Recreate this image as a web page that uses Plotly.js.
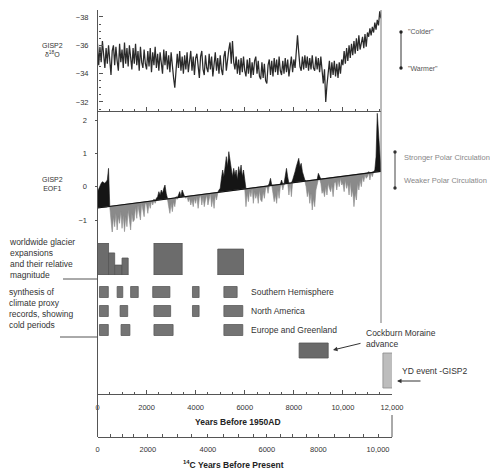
<!DOCTYPE html>
<html><head><meta charset="utf-8">
<script src="https://cdn.plot.ly/plotly-3.0.1.min.js"></script>
<style>html,body{margin:0;padding:0;background:#fff}#chart{width:490px;height:470px}</style>
</head><body><div id="chart"></div>
<script>
// ---------- DATA ----------
// GISP2 d18O (permil), sampled every 50 years from 0 to 11550 years BP
const d18oStep = 50;
const d18oValues = [
-36.1,-34.6,-35.9,-34.8,-36.3,-35.0,-34.4,-35.8,-34.7,-36.0,
-34.5,-33.9,-35.6,-36.0,-34.6,-35.9,-34.9,-34.2,-36.1,-34.8,
-35.7,-34.4,-36.2,-34.7,-35.8,-34.5,-36.0,-34.9,-34.3,-35.8,
-34.7,-36.1,-34.6,-35.6,-34.2,-35.9,-34.8,-34.4,-35.7,-34.7,
-34.3,-35.6,-34.5,-35.8,-34.1,-35.5,-34.6,-35.9,-34.4,-35.4,
-34.2,-35.5,-34.5,-34.0,-35.7,-34.6,-35.6,-34.3,-35.3,-34.1,
-35.5,-34.3,-33.7,-33.0,-34.2,-35.4,-34.4,-35.6,-34.2,-35.2,
-34.0,-35.3,-34.3,-35.5,-34.1,-35.1,-35.6,-34.2,-35.2,-33.9,
-35.1,-35.4,-34.2,-33.7,-35.2,-35.6,-34.3,-33.9,-35.3,-34.4,
-34.1,-35.4,-34.3,-35.2,-33.8,-35.0,-35.5,-34.2,-35.1,-34.0,
-35.3,-34.3,-33.9,-35.2,-35.6,-34.2,-35.1,-35.7,-36.2,-34.7,
-36.3,-34.8,-34.3,-35.2,-34.0,-35.0,-33.9,-35.1,-34.1,-35.2,
-34.2,-33.8,-35.0,-34.0,-35.1,-33.7,-34.8,-33.9,-34.9,-35.2,
-34.0,-34.9,-33.8,-33.6,-34.8,-33.7,-34.7,-33.5,-33.3,-34.6,
-35.0,-33.9,-34.9,-33.8,-35.1,-34.1,-35.0,-33.9,-35.2,-34.2,
-33.9,-34.9,-34.0,-35.1,-34.1,-35.0,-33.8,-34.8,-35.2,-34.1,
-35.0,-34.4,-35.9,-36.7,-35.5,-34.5,-34.2,-35.2,-34.3,-35.3,
-34.4,-35.2,-34.2,-35.1,-34.3,-35.3,-34.4,-34.2,-35.2,-34.3,
-35.1,-34.1,-35.2,-33.9,-33.3,-34.3,-32.0,-33.2,-34.4,-34.9,
-33.7,-34.8,-33.9,-34.9,-33.8,-34.7,-33.7,-34.8,-34.0,-35.0,
-34.6,-35.6,-34.7,-35.8,-34.9,-36.0,-35.1,-36.1,-35.3,-36.3,
-35.4,-36.5,-35.6,-36.7,-35.7,-36.1,-36.6,-35.8,-36.8,-35.9,
-36.9,-36.6,-37.2,-36.7,-37.3,-36.9,-37.6,-37.1,-37.8,-37.4,
-38.4,-37.9
];
// GISP2 EOF1 (polar circulation index), sampled every 50 years
const eofStep = 50;
const eofValues = [
-0.15,-0.05,0.05,0.1,0.15,0.12,0.1,0.15,0.2,0.55,
-0.6,-1.0,-1.4,-0.9,-1.2,-0.8,-1.3,-0.9,-1.1,-0.75,
-1.25,-0.85,-1.35,-0.9,-1.2,-0.7,-1.0,-1.3,-0.8,-1.05,
-1.0,-0.6,-0.95,-0.55,-0.8,-1.0,-0.5,-0.7,-0.9,-0.48,
-0.55,-0.8,-0.5,-0.65,-0.42,-0.55,-0.38,-0.5,-0.35,-0.3,
-0.15,-0.25,-0.1,-0.2,-0.05,0.05,-0.2,-0.35,-0.6,-0.8,
-0.5,-0.75,-0.45,-0.6,-0.3,-0.38,-0.25,-0.15,-0.3,-0.1,
-0.2,-0.3,-0.35,-0.3,-0.45,-0.35,-0.55,-0.4,-0.6,-0.35,
-0.5,-0.3,-0.65,-0.35,-0.25,-0.55,-0.3,-0.6,-0.4,-0.25,
-0.55,-0.3,-0.2,-0.6,-0.35,-0.65,-0.25,-0.4,-0.2,-0.1,
-0.05,0.25,0.5,0.3,0.7,0.9,0.6,1.05,0.8,0.45,
0.3,0.55,0.35,0.5,0.2,0.6,0.4,0.65,0.3,0.5,
0.1,-0.6,-0.2,-0.45,-0.1,-0.3,-0.05,-0.5,-0.15,-0.35,
-0.2,-0.5,-0.1,-0.4,-0.45,-0.15,-0.35,-0.05,0.0,-0.2,
0.1,0.25,0.05,-0.2,-0.45,-0.25,-0.5,-0.1,-0.35,0.0,
0.2,-0.1,0.05,0.35,0.55,0.3,-0.25,0.1,-0.3,0.2,
0.3,0.45,0.6,0.7,0.85,0.6,0.7,0.45,0.35,0.2,
0.0,-0.3,-0.1,-0.5,-0.2,-0.7,-0.35,-0.6,-0.1,0.05,
0.4,0.3,0.1,-0.2,-0.1,-0.3,0.0,-0.25,0.1,-0.05,
-0.15,0.05,-0.3,0.1,0.15,-0.1,0.2,0.0,0.25,0.05,
0.1,-0.15,0.2,-0.05,0.1,-0.25,0.15,-0.3,-0.1,-0.6,
-0.2,-0.4,0.1,-0.1,0.2,0.0,0.3,0.15,0.35,0.25,
0.3,0.45,0.2,0.4,0.3,0.45,0.5,0.9,2.2,1.6,
0.8,0.5
];
// linear trend of EOF1
const eofTrendYears = [0, 11550];
const eofTrendValues = [-0.64, 0.46];

// worldwide glacier expansions: start, end (years before 1950) and relative magnitude
const glacierStart = [0, 450, 700, 1000, 2300, 4900];
const glacierEnd   = [450, 700, 1000, 1250, 3450, 5950];
const glacierMag   = [1.0, 0.69, 0.31, 0.53, 1.0, 0.81];

// cold periods from climate proxy records [start, end]
const southernHemisphere = [[80,440],[800,1030],[1350,1660],[2250,2950],[3870,4140],[5150,5690]];
const northAmerica       = [[80,440],[920,1230],[2300,2980],[3870,4140],[5150,5920]];
const europeGreenland    = [[80,440],[960,1320],[2300,3080],[5150,5920]];
const cockburnAdvance    = [8215, 9400];
const ydEvent            = [11630, 12120];

// axis ticks
const calTickVals   = [0, 2000, 4000, 6000, 8000, 10000, 12000];
const calTickText   = ['0', '2000', '4000', '6000', '8000', '10,000', '12,000'];
const c14TickLabels = ['0', '2000', '4000', '6000', '8000', '10,000'];
const c14TickCal    = [0, 2050, 4500, 6900, 9000, 11430];
const c14MinorCal   = [520, 1000, 1450, 2650, 3250, 3850, 5150, 5750, 6350, 7450, 7950, 8500, 9650, 10250, 10850];

// ---------- HELPERS ----------
const PX = x => x / 490;
const PY = y => 1 - y / 470;
const FONT = 'Liberation Sans, Arial, sans-serif';

const d18oYears = d18oValues.map((_, i) => i * d18oStep);
const eofYears = eofValues.map((_, i) => i * eofStep);
const trendAt = yr => eofTrendValues[0] + (yr - eofTrendYears[0]) *
  (eofTrendValues[1] - eofTrendValues[0]) / (eofTrendYears[1] - eofTrendYears[0]);
const eofBase = eofYears.map(trendAt);
const eofUpper = eofValues.map((v, i) => Math.max(v, eofBase[i]));
const eofLower = eofValues.map((v, i) => Math.min(v, eofBase[i]));

const traces = [];
// top panel
traces.push({x: d18oYears, y: d18oValues, xaxis: 'x2', yaxis: 'y', type: 'scatter', mode: 'lines',
  line: {color: '#2a2a2a', width: 1.25}, hoverinfo: 'skip'});
// EOF fills
traces.push({x: eofYears, y: eofBase, xaxis: 'x2', yaxis: 'y2', mode: 'lines', line: {width: 0}, hoverinfo: 'skip'});
traces.push({x: eofYears, y: eofUpper, xaxis: 'x2', yaxis: 'y2', mode: 'lines', fill: 'tonexty',
  fillcolor: '#151515', line: {color: '#151515', width: 0.6}, hoverinfo: 'skip'});
traces.push({x: eofYears, y: eofBase, xaxis: 'x2', yaxis: 'y2', mode: 'lines', line: {width: 0}, hoverinfo: 'skip'});
traces.push({x: eofYears, y: eofLower, xaxis: 'x2', yaxis: 'y2', mode: 'lines', fill: 'tonexty',
  fillcolor: '#8a8a8a', line: {color: '#8a8a8a', width: 0.6}, hoverinfo: 'skip'});
traces.push({x: eofTrendYears, y: eofTrendValues, xaxis: 'x2', yaxis: 'y2', mode: 'lines',
  line: {color: '#111', width: 1.2}, hoverinfo: 'skip'});

// glacier expansions (vertical bars)
traces.push({type: 'bar', xaxis: 'x', yaxis: 'y3',
  x: glacierStart.map((s, i) => (s + glacierEnd[i]) / 2),
  width: glacierStart.map((s, i) => glacierEnd[i] - s),
  y: glacierMag, base: glacierMag.map(() => 0),
  marker: {color: '#6c6c6c', line: {color: '#555', width: 0.8}}, hoverinfo: 'skip'});

// proxy records (horizontal bars)
function hbar(events, rowPos, thick, fill, edge) {
  return {type: 'bar', orientation: 'h', xaxis: 'x', yaxis: 'y4', cliponaxis: false,
    base: events.map(e => e[0]), x: events.map(e => e[1] - e[0]),
    y: events.map(() => rowPos), width: events.map(() => thick),
    marker: {color: fill, line: {color: edge, width: 0.8}}, hoverinfo: 'skip'};
}
traces.push(hbar(southernHemisphere, 60, 11, '#747474', '#5a5a5a'));
traces.push(hbar(northAmerica, 79, 11, '#747474', '#5a5a5a'));
traces.push(hbar(europeGreenland, 98, 11, '#747474', '#5a5a5a'));
traces.push(hbar([cockburnAdvance], 118.5, 15, '#6a6a6a', '#555'));
traces.push(hbar([ydEvent], 138.5, 35, '#bdbdbd', '#8a8a8a'));
// invisible trace so that the 14C axis is drawn
traces.push({type: 'scatter', mode: 'markers', xaxis: 'x3', yaxis: 'y5', x: [0], y: [0],
  marker: {opacity: 0, size: 1}, hoverinfo: 'skip'});

const axColor = '#555';
const tickFont = {family: FONT, size: 7.5, color: '#333'};

const layout = {
  width: 490, height: 470,
  margin: {l: 0, r: 0, t: 0, b: 0},
  paper_bgcolor: '#fff', plot_bgcolor: 'rgba(0,0,0,0)',
  showlegend: false, barmode: 'overlay',
  font: {family: FONT, size: 8, color: '#333'},
  xaxis: {domain: [PX(97.5), PX(392)], range: [0, 12000], anchor: 'free', position: PY(394),
    showline: true, linecolor: axColor, linewidth: 1, showgrid: false, zeroline: false,
    tickmode: 'array', tickvals: calTickVals, ticktext: calTickText,
    ticks: 'inside', ticklen: 4, tickcolor: axColor, tickfont: tickFont, ticklabelstandoff: 6,
    minor: {dtick: 500, ticks: 'inside', ticklen: 2.5, tickcolor: axColor}},
  xaxis2: {domain: [PX(97.5), PX(381)], range: [0, 11552], anchor: 'y',
    showline: true, linecolor: axColor, linewidth: 1, showgrid: false, zeroline: false,
    showticklabels: false, dtick: 2000, ticks: 'inside', ticklen: 4, tickcolor: axColor,
    minor: {dtick: 500, ticks: 'inside', ticklen: 2.5, tickcolor: axColor}},
  xaxis3: {domain: [PX(97.5), PX(392)], range: [0, 12000], anchor: 'free', position: PY(437),
    showline: true, linecolor: axColor, linewidth: 1, showgrid: false, zeroline: false,
    tickmode: 'array', tickvals: c14TickCal.concat(c14MinorCal),
    ticktext: c14TickLabels.concat(c14MinorCal.map(() => '')),
    ticks: 'inside', ticklen: 3, tickcolor: axColor, tickfont: tickFont, ticklabelstandoff: 5},
  yaxis: {domain: [PY(111), PY(10)], range: [-31.36, -38.49], anchor: 'free', position: PX(97.5),
    showline: false, showgrid: false, zeroline: false,
    tickmode: 'array', tickvals: [-38, -36, -34, -32], ticks: 'inside', ticklen: 4, tickcolor: axColor,
    tickfont: tickFont, ticklabelstandoff: 9,
    minor: {dtick: 0.5, ticks: 'inside', ticklen: 2.5, tickcolor: axColor}},
  yaxis2: {domain: [PY(232), PY(111)], range: [-1.36, 2.27], anchor: 'free', position: PX(97.5),
    showline: false, showgrid: false, zeroline: false,
    tickmode: 'array', tickvals: [-1, 0, 1, 2], ticks: 'outside', ticklen: 3, tickcolor: axColor,
    tickfont: tickFont, ticklabelstandoff: 6},
  yaxis3: {domain: [PY(275), PY(243)], range: [0, 1], anchor: 'free', position: PX(97.5), visible: false},
  yaxis4: {domain: [PY(394), PY(232)], range: [162, 0], anchor: 'free', position: PX(97.5), visible: false},
  yaxis5: {domain: [PY(437), PY(396)], range: [1, 2], anchor: 'free', position: PX(97.5), visible: false},
  shapes: [
    {type: 'line', xref: 'paper', yref: 'paper', x0: PX(97.5), x1: PX(97.5), y0: PY(10), y1: PY(437), line: {color: axColor, width: 1}},
    {type: 'line', xref: 'paper', yref: 'paper', x0: PX(381), x1: PX(381), y0: PY(10), y1: PY(323), line: {color: '#777', width: 1}},
    {type: 'line', xref: 'paper', yref: 'paper', x0: PX(392), x1: PX(392), y0: PY(415), y1: PY(437), line: {color: axColor, width: 1}},
    {type: 'line', xref: 'paper', yref: 'paper', x0: PX(63), x1: PX(97.5), y0: PY(279), y1: PY(279), line: {color: '#555', width: 1}},
    {type: 'line', xref: 'paper', yref: 'paper', x0: PX(60), x1: PX(97.5), y0: PY(337), y1: PY(337), line: {color: '#555', width: 1}},
    {type: 'line', xref: 'paper', yref: 'paper', x0: PX(401), x1: PX(401), y0: PY(32), y1: PY(68), line: {color: '#333', width: 1}},
    {type: 'circle', xref: 'paper', yref: 'paper', x0: PX(399.3), x1: PX(402.7), y0: PY(30.3), y1: PY(33.7), fillcolor: '#222', line: {width: 0}},
    {type: 'circle', xref: 'paper', yref: 'paper', x0: PX(399.3), x1: PX(402.7), y0: PY(66.3), y1: PY(69.7), fillcolor: '#222', line: {width: 0}},
    {type: 'line', xref: 'paper', yref: 'paper', x0: PX(395), x1: PX(395), y0: PY(152), y1: PY(188), line: {color: '#444', width: 1}},
    {type: 'circle', xref: 'paper', yref: 'paper', x0: PX(393.3), x1: PX(396.7), y0: PY(150.3), y1: PY(153.7), fillcolor: '#333', line: {width: 0}},
    {type: 'circle', xref: 'paper', yref: 'paper', x0: PX(393.3), x1: PX(396.7), y0: PY(186.3), y1: PY(189.7), fillcolor: '#333', line: {width: 0}}
  ],
  annotations: []
};

function label(text, x, y, opts) {
  return Object.assign({text: text, xref: 'paper', yref: 'paper', x: PX(x), y: PY(y),
    xanchor: 'left', yanchor: 'middle', align: 'left', showarrow: false,
    font: {family: FONT, size: 8.5, color: '#333'}}, opts || {});
}
const A = layout.annotations;
A.push(label('GISP2<br>δ<sup>18</sup>O', 52, 50, {xanchor: 'center', align: 'center', font: {family: FONT, size: 7, color: '#333'}}));
A.push(label('GISP2<br>EOF1', 52, 184, {xanchor: 'center', align: 'center', font: {family: FONT, size: 7, color: '#333'}}));
A.push(label('"Colder"', 406, 32, {font: {family: FONT, size: 7, color: '#555'}}));
A.push(label('"Warmer"', 406, 68, {font: {family: FONT, size: 7, color: '#555'}}));
A.push(label('Stronger Polar Circulation', 402, 157, {font: {family: FONT, size: 7.5, color: '#888'}}));
A.push(label('Weaker Polar Circulation', 402, 181, {font: {family: FONT, size: 7.5, color: '#888'}}));
A.push(label('worldwide glacier<br>expansions<br>and their relative<br>magnitude', 7, 258, {font: {family: FONT, size: 8.5, color: '#333'}}));
A.push(label('synthesis of<br>climate proxy<br>records, showing<br>cold periods', 7, 308, {font: {family: FONT, size: 8.5, color: '#333'}}));
A.push(label('Southern Hemisphere', 249, 292));
A.push(label('North America', 249, 311));
A.push(label('Europe and Greenland', 249, 330));
A.push(label('Cockburn Moraine<br>advance', 364, 338.5));
A.push(label('YD event -GISP2', 400, 371));
A.push({text: '', xref: 'paper', yref: 'paper', x: PX(333), y: PY(350), ax: 29, ay: -7,
  showarrow: true, arrowhead: 2, arrowsize: 0.9, arrowwidth: 1, arrowcolor: '#333'});
A.push({text: '', xref: 'paper', yref: 'paper', x: PX(397), y: PY(381), ax: 25, ay: 0,
  showarrow: true, arrowhead: 2, arrowsize: 0.9, arrowwidth: 1, arrowcolor: '#333'});
A.push(label('<b>Years Before 1950AD</b>', 238, 422, {xanchor: 'center', align: 'center', font: {family: FONT, size: 8.5, color: '#222'}}));
A.push(label('<b><sup>14</sup>C Years Before Present</b>', 233, 464, {xanchor: 'center', align: 'center', font: {family: FONT, size: 8.5, color: '#222'}}));

Plotly.newPlot('chart', traces, layout, {staticPlot: true, displayModeBar: false});
</script>
</body></html>
